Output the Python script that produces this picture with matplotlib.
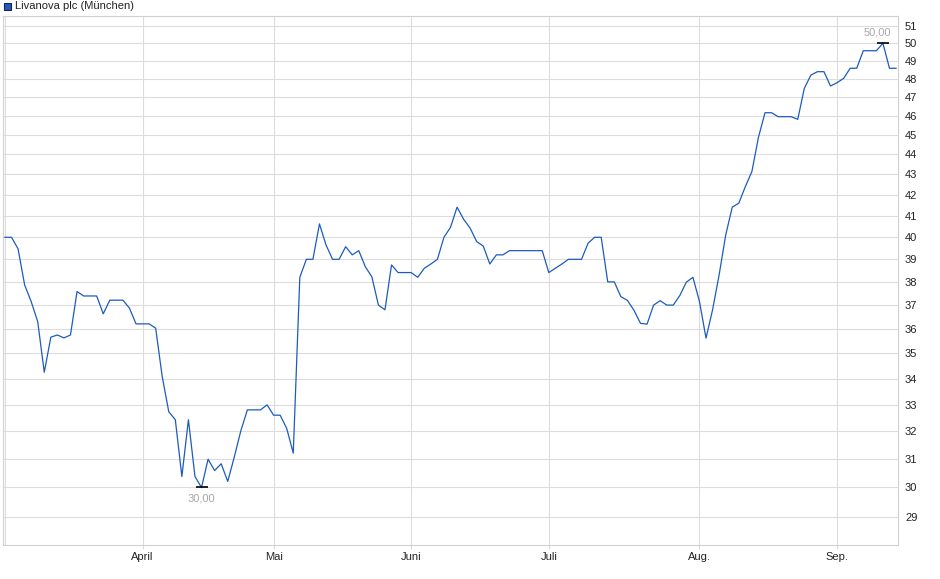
import matplotlib
matplotlib.use("Agg")
import matplotlib.pyplot as plt
from matplotlib.ticker import NullLocator, FixedLocator
import numpy as np
import pandas as pd

plt.rcParams['font.family'] = ['Liberation Sans', 'DejaVu Sans']

# trading days (German exchange) from March to mid September 2025
holidays = ['2025-04-18', '2025-04-21', '2025-05-01']
dates = pd.bdate_range('2025-03-03', '2025-09-12')
dates = dates[~dates.isin(pd.to_datetime(holidays))]

# closing prices in EUR
prices = [40.0, 40.0, 39.47, 37.87, 37.15, 36.3, 34.25, 35.66, 35.75, 35.63,
          35.75, 37.58, 37.39, 37.39, 37.39, 36.63, 37.21, 37.21, 37.21, 36.87,
          36.21, 36.21, 36.21, 36.03, 34.08, 32.73, 32.43, 30.38, 32.43, 30.38,
          30.0, 30.99, 30.59, 30.83, 30.21, 31.07, 32.02, 32.8, 32.8, 32.8,
          32.99, 32.6, 32.6, 32.11, 31.21, 38.2, 39.0, 39.0, 40.62, 39.65,
          39.0, 39.0, 39.57, 39.2, 39.39, 38.67, 38.22, 37.0, 36.8, 38.75,
          38.41, 38.41, 38.41, 38.2, 38.6, 38.79, 39.0, 40.0, 40.46, 41.41,
          40.84, 40.42, 39.8, 39.6, 38.79, 39.2, 39.2, 39.39, 39.39, 39.39,
          39.39, 39.39, 39.39, 38.41, 38.6, 38.79, 39.0, 39.0, 39.0, 39.73,
          40.0, 40.0, 38.0, 38.0, 37.36, 37.2, 36.78, 36.23, 36.2, 37.0,
          37.19, 37.0, 37.0, 37.41, 37.99, 38.2, 37.15, 35.62, 36.8, 38.31,
          40.1, 41.41, 41.6, 42.4, 43.14, 44.87, 46.16, 46.16, 45.95, 45.95,
          45.95, 45.81, 47.47, 48.2, 48.39, 48.39, 47.6, 47.78, 48.02, 48.58,
          48.58, 49.57, 49.57, 49.57, 50.0, 48.58, 48.58]

month_names = {4: 'April', 5: 'Mai', 6: 'Juni', 7: 'Juli', 8: 'Aug.', 9: 'Sep.'}
y_ticks = list(range(29, 52))

x = np.arange(len(prices))
months = dates.month.values
month_idx = [i for i in range(1, len(months)) if months[i] != months[i - 1]]
month_lbl = [month_names[months[i]] for i in month_idx]

fig = plt.figure(figsize=(9.4, 5.79), dpi=100)
ax = fig.add_axes([3 / 940, 34 / 579, 895 / 940, 529 / 579])
ax.set_yscale('log')

grid_c = '#dcdcdc'
ax.plot(x, prices, color='#1c5bbf', lw=0.9, zorder=3)
ax.set_xlim(-0.3, 136.3)
ax.set_ylim(28.08, 51.59)

ax.yaxis.tick_right()
ax.yaxis.set_major_locator(FixedLocator(y_ticks))
ax.yaxis.set_minor_locator(NullLocator())
ax.set_yticklabels([str(v) for v in y_ticks])
ax.set_xticks(month_idx)
ax.set_xticklabels(month_lbl)

ax.grid(True, color=grid_c, lw=0.8)
ax.axvline(0, color=grid_c, lw=0.8)
for s in ax.spines.values():
    s.set_color('#d0d0d0')
    s.set_linewidth(0.8)
ax.tick_params(axis='y', length=0, pad=5, labelsize=8, colors='#222222')
ax.tick_params(axis='x', length=3, width=0.8, color=grid_c, pad=2,
               labelsize=8, labelcolor='#222222')

# max / min markers
imax = int(np.argmax(prices))
imin = int(np.argmin(prices))
ax.plot([imax], [prices[imax]], marker='_', ms=9, mew=1.2, color='black', zorder=4)
ax.plot([imin], [prices[imin]], marker='_', ms=9, mew=1.2, color='black', zorder=4)
ax.annotate(f"{prices[imax]:.2f}".replace('.', ','), (imax, prices[imax]),
            xytext=(-4, 4), textcoords='offset points', ha='center', va='bottom',
            fontsize=8, color='#a8a8a8')
ax.annotate(f"{prices[imin]:.2f}".replace('.', ','), (imin, prices[imin]),
            xytext=(0, -4), textcoords='offset points', ha='center', va='top',
            fontsize=8, color='#a8a8a8')

# legend
fig.patches.append(plt.Rectangle((4 / 940, 1 - 10 / 579), 7 / 940, 7 / 579,
                                 transform=fig.transFigure, facecolor='#1c5bbf',
                                 edgecolor='#222244', lw=0.8))
fig.text(15 / 940, 1 - 6 / 579, 'Livanova plc (München)', fontsize=8,
         va='center', ha='left', color='#222222')

fig.savefig('out.png', dpi=100)
